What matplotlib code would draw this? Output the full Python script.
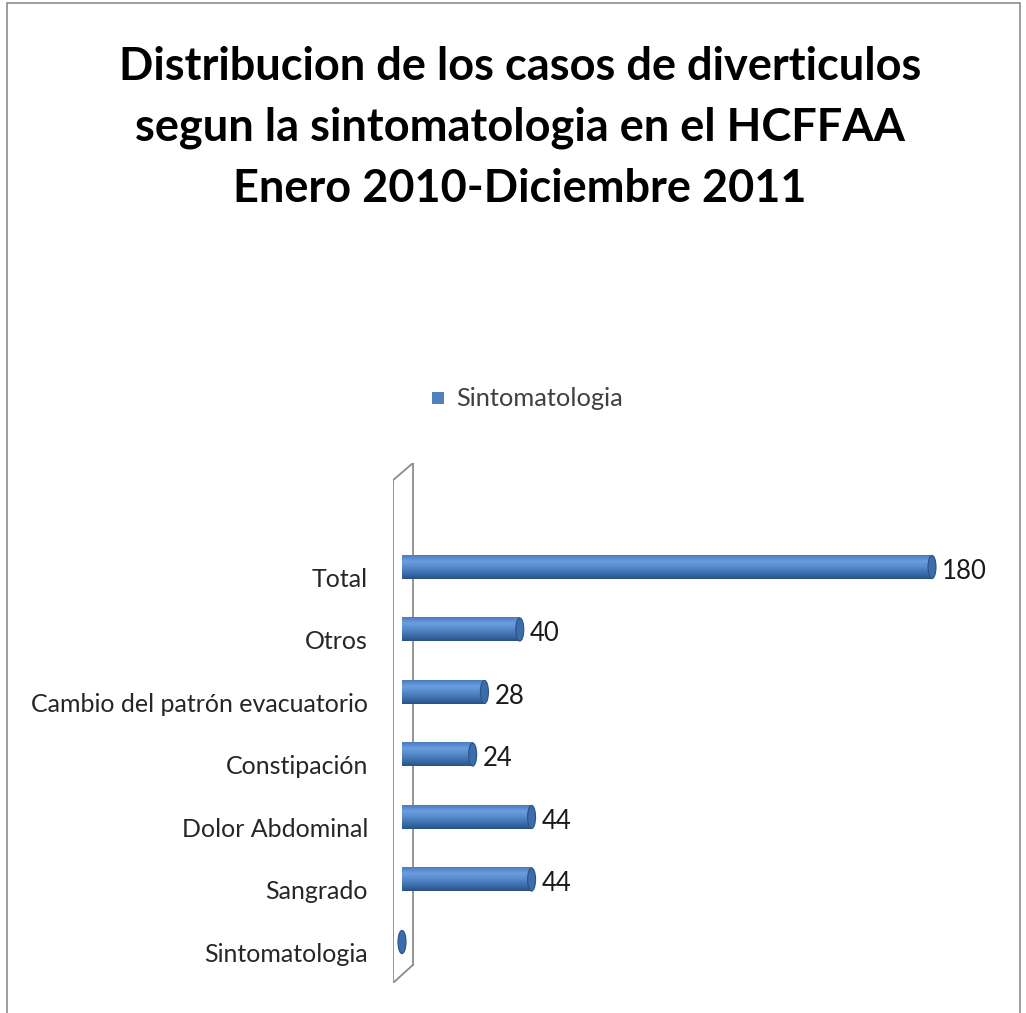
import numpy as np
import matplotlib.pyplot as plt
import matplotlib.transforms as mtransforms
from matplotlib.patches import Ellipse, Rectangle
from matplotlib.lines import Line2D
from matplotlib.colors import to_rgb

categories = ['Sintomatologia', 'Sangrado', 'Dolor Abdominal', 'Constipación',
              'Cambio del patrón evacuatorio', 'Otros', 'Total']
values = [0, 44, 44, 24, 28, 40, 180]
value_labels = ['', '44', '44', '24', '28', '40', '180']
series_name = 'Sintomatologia'
title = ('Distribucion de los casos de diverticulos\n'
         'segun la sintomatologia en el HCFFAA\n'
         'Enero 2010-Diciembre 2011')

plt.rcParams['font.family'] = ['Lato', 'DejaVu Sans']

fig = plt.figure(figsize=(10.26, 10.13), dpi=100)
W, H = 1026, 1013

# outer chart border
fig.patches.append(Rectangle((7 / W, -0.01), (1020 - 7) / W, (H - 3) / H + 0.01,
                             transform=fig.transFigure, fill=False,
                             edgecolor='#8c8c8c', linewidth=1.2))

fig.text(0.507, 1 - 46 / H, title, ha='center', va='top', fontsize=32.5,
         fontweight='bold', linespacing=1.55, color='black')

# axes placed in pixels
ax = fig.add_axes([393 / W, 1 - 983 / H, 607 / W, 520 / H])

# cylinder gradient (top -> bottom)
stops = [(0.0, '#4a7cc0'), (0.25, '#6a9edf'), (0.5, '#568acb'),
         (0.8, '#3a6aa8'), (1.0, '#2a5288')]
n = 64
t = np.linspace(0, 1, n)
grad = np.zeros((n, 1, 3))
for c in range(3):
    grad[:, 0, c] = np.interp(t, [s[0] for s in stops], [to_rgb(s[1])[c] for s in stops])

bar_h = 0.37
px_per_unit = 530 / 180
cap_w = 8 / px_per_unit
y = np.arange(len(categories))
for yi, v, lab in zip(y, values, value_labels):
    if v > 0:
        ax.imshow(grad, extent=(0, v, yi - bar_h / 2, yi + bar_h / 2),
                  aspect='auto', origin='upper', zorder=2, interpolation='bilinear')
    ax.add_patch(Ellipse((v, yi), cap_w, bar_h, facecolor='#3c6caa',
                         edgecolor='#2a5288', linewidth=0.8, zorder=3))
    if lab:
        ax.text(v + cap_w / 2 + 6 / px_per_unit, yi - 0.07, lab, va='center', ha='left',
                fontsize=18.5, color='#1a1a1a')

ax.set_xlim(-(402 - 393) / px_per_unit, (1000 - 402) / px_per_unit)
ax.set_ylim(-0.656, 7.664)
ax.set_yticks(y)
ax.set_yticklabels(categories, fontsize=18, color='#262626')
ax.tick_params(axis='y', length=0, pad=18)
shift = mtransforms.ScaledTranslation(0, -10 / 100, fig.dpi_scale_trans)
for tl in ax.get_yticklabels():
    tl.set_transform(tl.get_transform() + shift)
ax.set_xticks([])
for s in ax.spines.values():
    s.set_visible(False)
ax.patch.set_visible(False)

# 3D back wall
wall = dict(transform=ax.transAxes, color='#8c8c8c', linewidth=1.3, zorder=1)
ax.add_line(Line2D([0, 0], [0, 0.967], **wall))
ax.add_line(Line2D([0.033, 0.033], [0.035, 1.0], **wall))
ax.add_line(Line2D([0, 0.033], [0.967, 1.0], **wall))
ax.add_line(Line2D([0, 0.033], [0, 0.035], **wall))

# legend
fig.patches.append(Rectangle((432 / W, 1 - 404 / H), 12 / W, 12 / H,
                             transform=fig.transFigure, facecolor='#4f81bd',
                             edgecolor='none'))
fig.text(456 / W, 1 - 398 / H, series_name, ha='left', va='center',
         fontsize=18.3, color='#404040')

fig.savefig('out.png', dpi=100)
